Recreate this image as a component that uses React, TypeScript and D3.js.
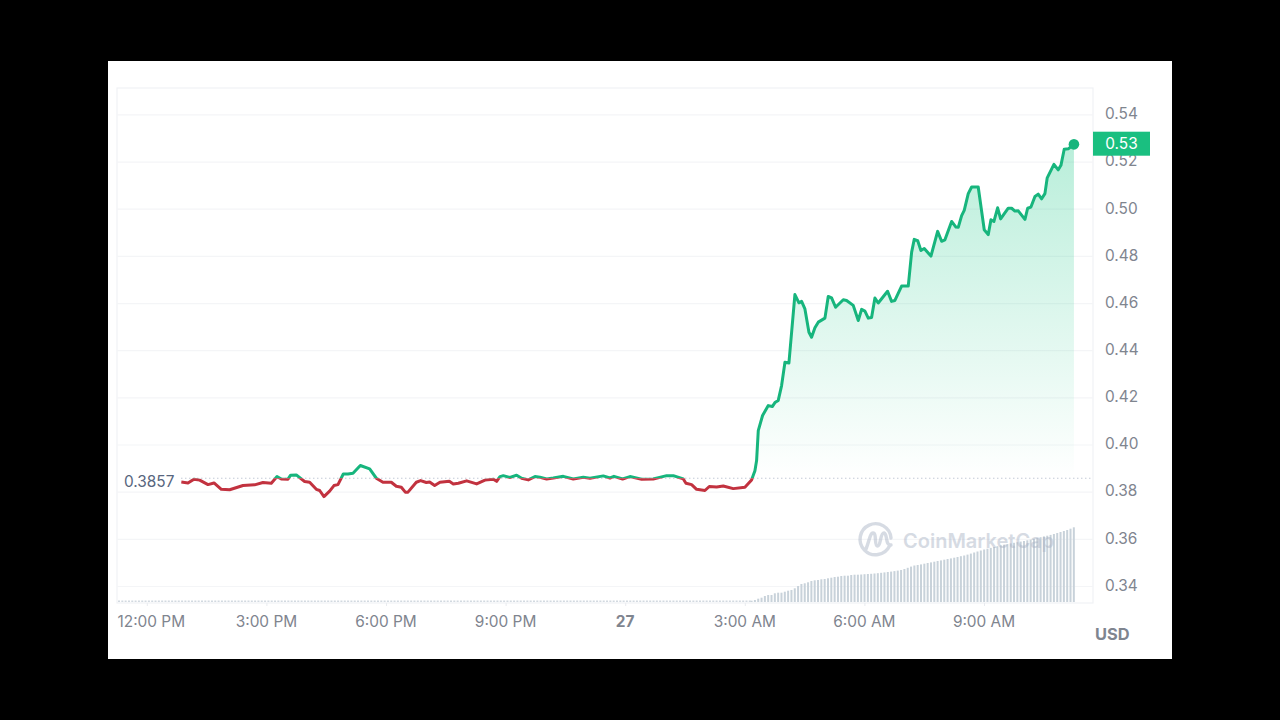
import React, { useRef, useEffect } from 'react';
import * as d3 from 'd3';

// hours after 12:00 PM on the 26th
const priceHours = [
  0.866, 1.033, 1.184, 1.326, 1.535, 1.686, 1.869, 2.078, 2.413, 2.705, 2.914, 3.123, 3.266, 3.374, 3.541, 3.608,
  3.75, 3.959, 4.085, 4.252, 4.336, 4.444, 4.586, 4.695, 4.795, 4.929, 5.046, 5.172, 5.356, 5.59, 5.757, 5.924,
  6.133, 6.258, 6.384, 6.484, 6.551, 6.76, 6.869, 7.011, 7.094, 7.22, 7.354, 7.588, 7.688, 7.814, 8.023, 8.274,
  8.483, 8.692, 8.775, 8.859, 8.942, 9.11, 9.277, 9.402, 9.569, 9.737, 9.862, 10.029, 10.196, 10.447, 10.698, 10.949,
  11.116, 11.45, 11.618, 11.718, 11.935, 12.119, 12.412, 12.704, 13.039, 13.206, 13.457, 13.524, 13.666, 13.791, 14.0, 14.109,
  14.293, 14.46, 14.711, 15.003, 15.17, 15.254, 15.296, 15.338, 15.446, 15.589, 15.689, 15.756, 15.839, 15.923, 16.007, 16.107,
  16.257, 16.358, 16.425, 16.508, 16.609, 16.675, 16.759, 16.843, 17.01, 17.093, 17.177, 17.277, 17.47, 17.553, 17.72, 17.846,
  17.93, 18.013, 18.097, 18.18, 18.264, 18.347, 18.581, 18.682, 18.765, 18.933, 19.1, 19.185, 19.25, 19.335, 19.418, 19.501,
  19.669, 19.837, 19.937, 20.02, 20.188, 20.296, 20.354, 20.439, 20.504, 20.605, 20.69, 20.855, 21.006, 21.106, 21.174, 21.249,
  21.342, 21.417, 21.608, 21.693, 21.776, 21.859, 22.027, 22.095, 22.177, 22.278, 22.36, 22.446, 22.528, 22.586, 22.754, 22.862,
  22.93, 23.012, 23.113, 23.256,
];
const priceValues = [
  0.3841, 0.3837, 0.3853, 0.3849, 0.383, 0.3837, 0.381, 0.3808, 0.3826, 0.3829, 0.3839, 0.3836, 0.3864, 0.3854, 0.3853, 0.387,
  0.3871, 0.3843, 0.384, 0.381, 0.3805, 0.3779, 0.3802, 0.3826, 0.383, 0.3875, 0.3875, 0.3878, 0.3911, 0.3897, 0.3857, 0.384,
  0.384, 0.3823, 0.3819, 0.3798, 0.3798, 0.384, 0.3847, 0.3839, 0.3841, 0.3826, 0.384, 0.3844, 0.3833, 0.3836, 0.3846, 0.3833,
  0.3849, 0.3853, 0.3844, 0.3864, 0.3868, 0.386, 0.387, 0.3857, 0.385, 0.3864, 0.3861, 0.3854, 0.3858, 0.3865, 0.3854, 0.3861,
  0.3857, 0.3867, 0.3858, 0.3865, 0.3854, 0.3864, 0.3853, 0.3854, 0.3868, 0.3868, 0.3854, 0.3836, 0.383, 0.381, 0.3805, 0.3822,
  0.382, 0.3824, 0.3813, 0.3819, 0.385, 0.3889, 0.3932, 0.4059, 0.4123, 0.4165, 0.4161, 0.4178, 0.4187, 0.425, 0.4349, 0.4346,
  0.4636, 0.4601, 0.4607, 0.4575, 0.4476, 0.4455, 0.4495, 0.4519, 0.4536, 0.4628, 0.4622, 0.4582, 0.4614, 0.4611, 0.459, 0.4526,
  0.4573, 0.4566, 0.4536, 0.4539, 0.4621, 0.46, 0.465, 0.4607, 0.4611, 0.4672, 0.4672, 0.4816, 0.487, 0.4865, 0.4823, 0.4831,
  0.4799, 0.4904, 0.4862, 0.4868, 0.4946, 0.4922, 0.4921, 0.4971, 0.4993, 0.5064, 0.5092, 0.5092, 0.4911, 0.489, 0.4953, 0.4946,
  0.5004, 0.4957, 0.5002, 0.5002, 0.499, 0.4991, 0.4955, 0.5002, 0.5007, 0.5052, 0.5062, 0.5042, 0.5064, 0.5131, 0.5188, 0.5165,
  0.5184, 0.5252, 0.5254, 0.5273,
];

const baselinePrice = 0.3857;
const lastPriceLabel = '0.53';

// volume per 5 minute slot (only the part where it is visible), first slot at 3:10 AM
const volumeStartHour = 15.17;
const volumeValues = [
  1.3, 2, 3.3, 4.3, 6, 7, 7, 8.7, 9.3, 9.3, 10.3, 11.3, 12, 13.7, 16, 18, 18.7, 19.7, 21, 21.7, 22, 22.7, 23, 23.7, 24.3,
  25, 25.3, 26, 26.3, 26.3, 27, 27.3, 27.3, 27.5, 27.8, 28, 28.2, 28.5, 28.8, 29.2, 29.6, 30, 30.4, 30.9, 31.4, 32, 33,
  34.2, 35.4, 36.5, 37, 37.6, 38.3, 39, 39.6, 40.3, 41, 41.6, 42.3, 43, 43.6, 44.3, 45, 45.8, 46.5, 47.4, 48.4, 49.5, 50.5,
  51.5, 52.5, 53.3, 54.1, 55, 55.8, 56.6, 57.3, 58, 58.6, 59.2, 59.8, 60.4, 61, 61.7, 62.4, 63.2, 64, 64.8, 65.6, 66.3,
  67.1, 68, 69, 70, 71, 72, 73.3, 74.7,
];

const yTicks = [0.34, 0.36, 0.38, 0.4, 0.42, 0.44, 0.46, 0.48, 0.5, 0.52, 0.54];
const xTicks = [0, 3, 6, 9, 12, 15, 18, 21];
const xTickLabels = ['12:00 PM', '3:00 PM', '6:00 PM', '9:00 PM', '27', '3:00 AM', '6:00 AM', '9:00 AM'];

const GREEN = '#17b57d';
const RED = '#c2323f';
const GREY = '#7f858f';
const GRID = '#f4f5f7';
const FONT = 'Inter, sans-serif';

const App: React.FC = () => {
  const svgRef = useRef<SVGSVGElement | null>(null);

  useEffect(() => {
    const svg = d3.select(svgRef.current);
    svg.selectAll('*').remove();

    const left = 117;
    const right = 1093;
    const top = 88;
    const bottom = 603;

    const x = d3.scaleLinear().domain([0, 21]).range([146.8, 984]);
    const y = d3.scaleLinear().domain([0.34, 0.54]).range([586, 114.4]);
    const vol = d3.scaleLinear().domain([0, 75]).range([602, 527]);

    svg.append('rect').attr('width', 1280).attr('height', 720).attr('fill', '#000');
    svg.append('rect').attr('x', 108).attr('y', 61).attr('width', 1064).attr('height', 598).attr('fill', '#fff');

    const defs = svg.append('defs');
    const grad = defs.append('linearGradient').attr('id', 'areaFill')
      .attr('gradientUnits', 'userSpaceOnUse')
      .attr('x1', 0).attr('x2', 0).attr('y1', y(0.5273)).attr('y2', y(baselinePrice));
    grad.append('stop').attr('offset', 0).attr('stop-color', '#16c784').attr('stop-opacity', 0.3);
    grad.append('stop').attr('offset', 1).attr('stop-color', '#16c784').attr('stop-opacity', 0);

    defs.append('clipPath').attr('id', 'aboveBase').append('rect')
      .attr('x', left).attr('y', top).attr('width', right - left).attr('height', y(baselinePrice) - top);
    defs.append('clipPath').attr('id', 'belowBase').append('rect')
      .attr('x', left).attr('y', y(baselinePrice)).attr('width', right - left).attr('height', bottom - y(baselinePrice));

    // frame
    svg.append('rect').attr('x', left).attr('y', top).attr('width', right - left).attr('height', bottom - top)
      .attr('fill', 'none').attr('stroke', '#f0f2f5').attr('stroke-width', 1.2);

    // y axis with the grid
    const yAxis = svg.append('g')
      .attr('transform', `translate(${right},0)`)
      .call(d3.axisRight(y).tickValues(yTicks).tickSize(0).tickPadding(12).tickFormat(d3.format('.2f')));
    yAxis.select('.domain').remove();
    yAxis.selectAll('text').attr('font-family', FONT).attr('font-size', 15.4).attr('fill', GREY).attr('dy', '0.28em');
    yAxis.selectAll('.tick').append('line')
      .attr('x1', left - right).attr('x2', 0).attr('stroke', GRID).attr('stroke-width', 1.2);

    // x axis
    const xAxis = svg.append('g')
      .attr('transform', `translate(0,${bottom})`)
      .call(d3.axisBottom(x).tickValues(xTicks).tickSize(3).tickPadding(10.5)
        .tickFormat((_, i) => xTickLabels[i]));
    xAxis.select('.domain').remove();
    xAxis.selectAll('line').attr('stroke', '#e9ebef');
    xAxis.selectAll('text').attr('font-family', FONT).attr('font-size', 15.4).attr('fill', GREY).attr('dx', -0.5);
    xAxis.selectAll<SVGTextElement, number>('text')
      .filter(d => d === 12).attr('font-weight', 700);
    // the first label is pushed inside the plot
    xAxis.selectAll<SVGTextElement, number>('text')
      .filter(d => d === 0).attr('text-anchor', 'start').attr('x', left - x(0)).attr('dx', 0);

    // volume
    svg.append('line')
      .attr('x1', left + 1).attr('x2', x(volumeStartHour)).attr('y1', 601.3).attr('y2', 601.3)
      .attr('stroke', '#d2d9e0').attr('stroke-width', 1.6).attr('stroke-dasharray', '2 1.32');
    svg.append('g').selectAll('rect')
      .data(volumeValues)
      .enter()
      .append('rect')
      .attr('x', (_, i) => x(volumeStartHour + (i * 5) / 60) - 1)
      .attr('y', d => vol(d))
      .attr('width', 2)
      .attr('height', d => vol(0) - vol(d))
      .attr('fill', '#c8d2da');

    // watermark
    const mark = svg.append('g').attr('opacity', 0.45);
    mark.append('path')
      .attr('d', 'M889.5 546 A15.5 15.5 0 1 1 891 538 M866 549 C869 542 870 533 873 533 C877 533 874 546 877.5 546 C881 546 880 533 884 533 C888 534 885 546 891 545')
      .attr('fill', 'none').attr('stroke', '#a6b0c3').attr('stroke-width', 3.4).attr('stroke-linecap', 'round');
    mark.append('text')
      .attr('x', 903).attr('y', 547.5).attr('font-family', FONT).attr('font-size', 20).attr('font-weight', 600)
      .attr('fill', '#a6b0c3').text('CoinMarketCap');

    const points = priceHours.map((h, i) => [h, priceValues[i]] as [number, number]);

    // area above the opening price
    const area = d3.area<[number, number]>()
      .x(d => x(d[0])).y0(y(baselinePrice)).y1(d => y(d[1]));
    svg.append('path').datum(points)
      .attr('d', area).attr('fill', 'url(#areaFill)').attr('clip-path', 'url(#aboveBase)');

    // opening price
    svg.append('line')
      .attr('x1', x(priceHours[0])).attr('x2', right).attr('y1', y(baselinePrice)).attr('y2', y(baselinePrice))
      .attr('stroke', '#a6b0c3').attr('stroke-width', 1).attr('stroke-dasharray', '1 3');
    svg.append('text')
      .attr('x', 124).attr('y', y(baselinePrice) + 8.3).attr('font-family', FONT).attr('font-size', 15.4)
      .attr('fill', '#58667e').text(baselinePrice.toString());

    // price line, green above and red below the opening price
    const line = d3.line<[number, number]>().x(d => x(d[0])).y(d => y(d[1]));
    svg.append('path').datum(points)
      .attr('d', line).attr('fill', 'none').attr('stroke', GREEN).attr('stroke-width', 3)
      .attr('stroke-linejoin', 'round').attr('clip-path', 'url(#aboveBase)');
    svg.append('path').datum(points)
      .attr('d', line).attr('fill', 'none').attr('stroke', RED).attr('stroke-width', 3)
      .attr('stroke-linejoin', 'round').attr('clip-path', 'url(#belowBase)');

    const last = points[points.length - 1];
    svg.append('circle').attr('cx', x(last[0])).attr('cy', y(last[1])).attr('r', 5.3).attr('fill', GREEN);

    // current price badge
    svg.append('rect').attr('x', right).attr('y', 131.7).attr('width', 57).attr('height', 24).attr('fill', '#1abf80');
    svg.append('text')
      .attr('x', 1121.5).attr('y', 149).attr('text-anchor', 'middle').attr('font-family', FONT).attr('font-size', 15.4)
      .attr('fill', '#fff').text(lastPriceLabel);

    svg.append('text')
      .attr('x', 1095).attr('y', 640).attr('font-family', FONT).attr('font-size', 16.4).attr('font-weight', 700)
      .attr('fill', GREY).text('USD');
  }, []);

  return <svg ref={svgRef} width={1280} height={720} style={{ position: 'absolute', left: 0, top: 0 }} />;
};

export default App;
